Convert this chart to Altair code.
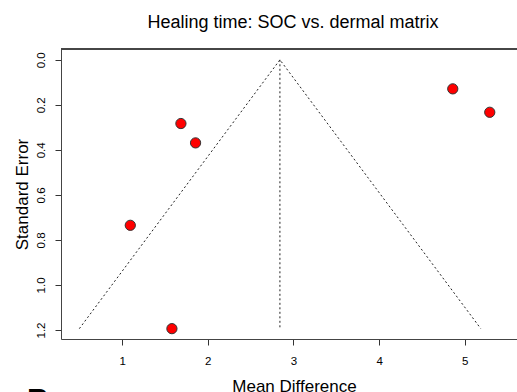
import altair as alt
import pandas as pd

# Study estimates
mean_diff = [1.686, 1.857, 1.095, 1.581, 4.860, 5.292]
std_err = [0.283, 0.369, 0.735, 1.194, 0.129, 0.233]

# Funnel (pseudo 95% CI) outline and centre line
funnel_x = [0.50, 2.842, 5.187]
funnel_y = [1.194, 0.0, 1.194]
centre_x = [2.842, 2.842]
centre_y = [0.0, 1.194]

x_ticks = [1, 2, 3, 4, 5]
y_ticks = [0.0, 0.2, 0.4, 0.6, 0.8, 1.0, 1.2]

FONT = "Liberation Sans"
W, H = 456, 290

pts = pd.DataFrame({"md": mean_diff, "se": std_err})
funnel = pd.DataFrame({"md": funnel_x, "se": funnel_y, "o": [0, 1, 2]})
centre = pd.DataFrame({"md": centre_x, "se": centre_y, "o": [0, 1]})

xscale = alt.Scale(domain=[0.286, 5.61], nice=False, zero=False)
yscale = alt.Scale(domain=[-0.048, 1.24], nice=False, zero=False, reverse=True)

xaxis = alt.Axis(
    values=x_ticks, format="d", grid=False, title="Mean Difference",
    titleFont=FONT, titleFontSize=17, titleFontWeight="normal", titleColor="black",
    titleX=233, titleY=52, titleBaseline="alphabetic", titleAnchor="middle",
    labelFont=FONT, labelFontSize=11.5, labelColor="black", labelPadding=10,
    tickSize=6, tickColor="#333", domainColor="#444", domainWidth=1,
)
yaxis = alt.Axis(
    values=y_ticks, format=".1f", grid=False, title="Standard Error",
    titleFont=FONT, titleFontSize=17, titleFontWeight="normal", titleColor="black",
    titleX=-39, titleY=145, titleAngle=270, titleBaseline="middle", titleAlign="center",
    labelFont=FONT, labelFontSize=11.5, labelColor="black", labelAngle=270,
    labelAlign="center", labelBaseline="bottom", labelPadding=9,
    tickSize=6, tickColor="#333", domainColor="#444", domainWidth=1,
)

base_x = alt.X("md:Q", scale=xscale, axis=xaxis)
base_y = alt.Y("se:Q", scale=yscale, axis=yaxis)

funnel_line = alt.Chart(funnel).mark_line(
    color="#222", strokeWidth=1, strokeDash=[2, 2.5]
).encode(x=base_x, y=base_y, order="o:O")

centre_line = alt.Chart(centre).mark_line(
    color="#222", strokeWidth=1, strokeDash=[2, 2.5]
).encode(x=alt.X("md:Q", scale=xscale), y=alt.Y("se:Q", scale=yscale), order="o:O")

points = alt.Chart(pts).mark_point(
    shape="circle", filled=True, fill="#FF0000", stroke="#333", strokeWidth=1,
    size=105, opacity=1,
).encode(x=alt.X("md:Q", scale=xscale), y=alt.Y("se:Q", scale=yscale))

top_border = alt.Chart(pts).mark_rule(color="#444", strokeWidth=1).encode(
    x=alt.value(0), x2=alt.value(W), y=alt.value(0)
)

panel_letter = alt.Chart(pd.DataFrame({"t": ["B"]})).mark_text(
    font=FONT, fontSize=30, fontWeight="bold", align="left",
    baseline="alphabetic", color="black",
).encode(text="t:N", x=alt.value(-34), y=alt.value(360))

chart = (
    alt.layer(funnel_line, centre_line, points, top_border, panel_letter)
    .properties(
        width=W, height=H,
        title=alt.TitleParams(
            "Healing time: SOC vs. dermal matrix", font=FONT, fontSize=18,
            fontWeight="normal", color="black", anchor="middle", dx=4,
            baseline="alphabetic", offset=3,
        ),
        autosize=alt.AutoSizeParams(type="none"),
        padding={"left": 61, "top": 49, "right": 0, "bottom": 53},
    )
    .configure_view(stroke=None)
    .configure(background="white")
)

chart.save("out.html", embed_options={"renderer": "svg", "actions": False})
